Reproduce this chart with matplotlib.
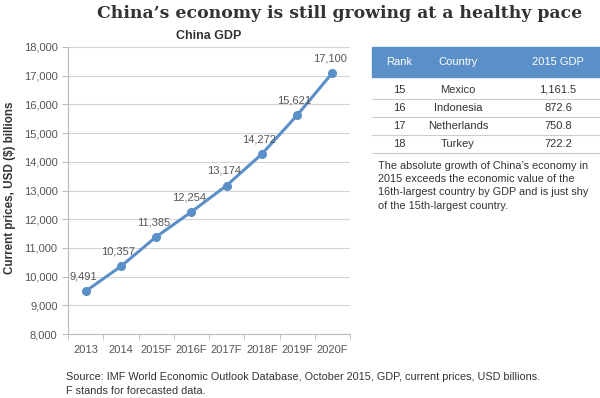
import matplotlib.pyplot as plt

years = ["2013", "2014", "2015F", "2016F", "2017F", "2018F", "2019F", "2020F"]
gdp = [9491, 10357, 11385, 12254, 13174, 14272, 15621, 17100]

ranks = ["15", "16", "17", "18"]
countries = ["Mexico", "Indonesia", "Netherlands", "Turkey"]
gdp2015 = ["1,161.5", "872.6", "750.8", "722.2"]

blue = "#5b8fc7"
grey = "#555555"
plt.rcParams["font.family"] = ["Liberation Sans", "DejaVu Sans"]

fig = plt.figure(figsize=(6, 3.98), dpi=100)
ax = fig.add_axes([68 / 600, 1 - 334 / 398, 282 / 600, 287 / 398])

x = list(range(len(years)))
ax.plot(x, gdp, color=blue, lw=2.2, marker="o", ms=5.5)
for xi, v in zip(x, gdp):
    ax.annotate(f"{v:,}", (xi, v), xytext=(-2, 7), textcoords="offset points",
                ha="center", va="bottom", fontsize=8, color=grey)

ax.set_xlim(-0.5, len(years) - 0.5)
ax.set_ylim(8000, 18000)
ax.set_yticks(range(8000, 18001, 1000))
ax.set_yticklabels([f"{t:,}" for t in range(8000, 18001, 1000)])
ax.set_xticks(x)
ax.set_xticklabels(years)
ax.set_xticks([i - 0.5 for i in range(len(years) + 1)], minor=True)
ax.tick_params(axis="x", which="major", length=0, labelsize=8, colors=grey, pad=8)
ax.tick_params(axis="x", which="minor", length=4, color="#bbbbbb")
ax.tick_params(axis="y", length=4, color="#bbbbbb", labelsize=8, labelcolor=grey)
ax.grid(axis="y", color="#d4d4d4", lw=0.8)
ax.set_axisbelow(True)
for s in ["top", "right"]:
    ax.spines[s].set_visible(False)
for s in ["left", "bottom"]:
    ax.spines[s].set_color("#bbbbbb")
ax.set_ylabel("Current prices, USD ($) billions", fontsize=8.4, fontweight="bold",
              color="#333333")
ax.yaxis.set_label_coords(-52 / 282, 0.51)
ax.set_title("China GDP", fontsize=9, fontweight="bold", color="#333333", pad=6)

fig.text(340 / 600, 1 - 13 / 398, "China\u2019s economy is still growing at a healthy pace",
         ha="center", va="center", fontsize=12.4, fontweight="bold",
         family="DejaVu Serif", color="#333333")

# table
fig.patches.append(plt.Rectangle((372 / 600, 1 - 77 / 398), 228 / 600, 30 / 398,
                                 transform=fig.transFigure, color=blue))
colx = [399, 458, 558]
for cx, h in zip(colx, ["Rank", "Country", "2015 GDP"]):
    fig.text(cx / 600, 1 - 62 / 398, h, ha="center", va="center", fontsize=8, color="white")
for i, row in enumerate(zip(ranks, countries, gdp2015)):
    yc = 90 + i * 18
    for cx, t in zip(colx, row):
        fig.text(cx / 600, 1 - yc / 398, t, ha="center", va="center", fontsize=8, color="#333333")
    fig.add_artist(plt.Line2D([372 / 600, 1], [1 - (yc + 9) / 398] * 2, color="#cccccc", lw=0.8))

note = ("The absolute growth of China\u2019s economy in\n2015 exceeds the economic value of the\n"
        "16th-largest country by GDP and is just shy\nof the 15th-largest country.")
fig.text(378 / 600, 1 - 161 / 398, note, ha="left", va="top", fontsize=7.8,
         color="#333333", linespacing=1.4)

fig.text(66 / 600, 1 - 377 / 398,
         "Source: IMF World Economic Outlook Database, October 2015, GDP, current prices, USD billions.",
         ha="left", va="center", fontsize=7.8, color="#333333")
fig.text(66 / 600, 1 - 391 / 398, "F stands for forecasted data.",
         ha="left", va="center", fontsize=7.8, color="#333333")

fig.savefig("out.png", dpi=100)
